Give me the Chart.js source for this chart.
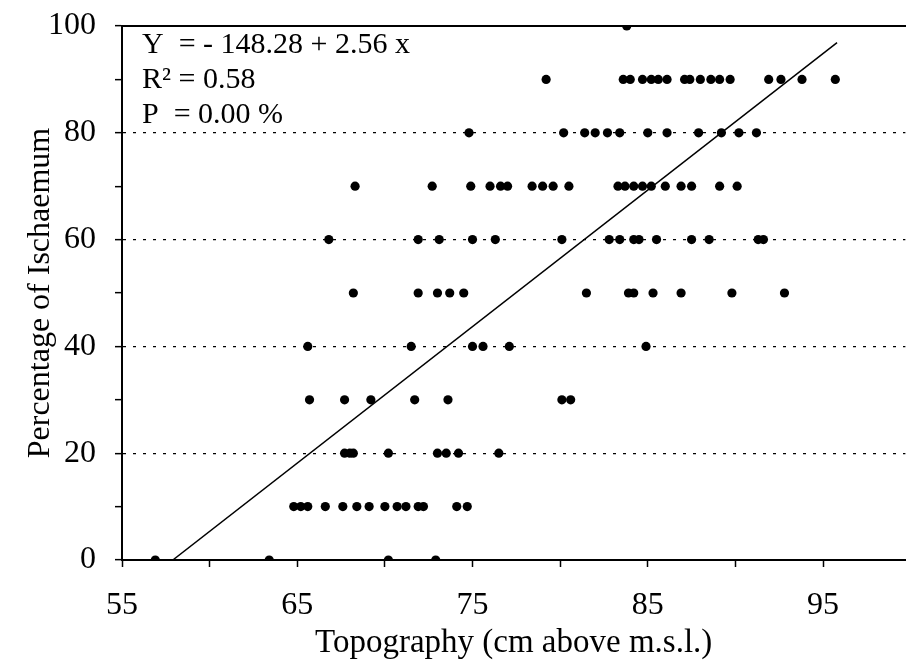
<!DOCTYPE html>
<html>
<head>
<meta charset="utf-8">
<script src="https://cdn.jsdelivr.net/npm/chart.js@4.4.0/dist/chart.umd.min.js"></script>
<style>
  html, body { margin: 0; padding: 0; background: #fff; }
</style>
</head>
<body>
<canvas id="chart" width="910" height="666"></canvas>
<script>
const FONT = '"Liberation Serif", "Times New Roman", serif';

// percentage of Ischaemum levels, and the topography readings (cm) found at each level
const levels = [0, 10, 20, 30, 40, 50, 60, 70, 80, 90, 100];
const topo0 = [56.9, 63.4, 70.2, 72.9];
const topo10 = [64.8, 65.2, 65.6, 66.6, 67.6, 68.4, 69.1, 70.0, 70.7, 71.2, 71.9, 72.2, 74.1, 74.7];
const topo20 = [67.7, 68.0, 68.2, 70.2, 73.0, 73.5, 74.2, 76.5];
const topo30 = [65.7, 67.7, 69.2, 71.7, 73.6, 80.1, 80.6];
const topo40 = [65.6, 71.5, 75.0, 75.6, 77.1, 84.9];
const topo50 = [68.2, 71.9, 73.0, 73.7, 74.5, 81.5, 83.9, 84.2, 85.3, 86.9, 89.8, 92.8];
const topo60 = [66.8, 71.9, 73.1, 75.0, 76.3, 80.1, 82.8, 83.4, 84.2, 84.5, 85.5, 87.5, 88.5, 91.3, 91.6];
const topo70 = [68.3, 72.7, 74.9, 76.0, 76.6, 77.0, 78.4, 79.0, 79.6, 80.5, 83.3, 83.7, 84.2, 84.7, 85.2, 86.0, 86.9, 87.5, 89.1, 90.1];
const topo80 = [74.8, 80.2, 81.4, 82.0, 82.7, 83.4, 85.0, 86.1, 87.9, 89.2, 90.2, 91.2];
const topo90 = [79.2, 83.6, 84.0, 84.7, 85.2, 85.6, 86.1, 87.1, 87.4, 88.0, 88.6, 89.1, 89.7, 91.9, 92.6, 93.8, 95.7];
const topo100 = [83.8];
const topoByLevel = [topo0, topo10, topo20, topo30, topo40, topo50, topo60, topo70, topo80, topo90, topo100];

// fitted line end points
const fitX = [57.9, 95.8];
const fitY = [0, 96.9];

const xTicks = [55, 60, 65, 70, 75, 80, 85, 90, 95];
const xLabels = [55, 65, 75, 85, 95];
const yLabels = [0, 20, 40, 60, 80, 100];
const dottedAt = [20, 40, 60, 80];
const statsText = ["Y  = - 148.28 + 2.56 x", "R\u00b2 = 0.58", "P  = 0.00 %"];

var points = [];
levels.forEach(function (lv, i) {
    topoByLevel[i].forEach(function (t) {
        points.push({ x: t, y: lv });
    });
});

var fitPoints = fitX.map(function (x, i) { return { x: x, y: fitY[i] }; });

// equation, R² and P written in the top left corner of the plot
const statsPlugin = {
    id: 'stats',
    afterDraw(chart) {
        const ctx = chart.ctx;
        const area = chart.chartArea;
        ctx.save();
        ctx.font = '30px ' + FONT;
        ctx.fillStyle = '#000';
        ctx.textBaseline = 'alphabetic';
        statsText.forEach(function (t, i) {
            ctx.fillText(t, area.left + 20, area.top + 27 + i * 35);
        });
        ctx.restore();
    }
};

new Chart(document.getElementById('chart'), {
    type: 'scatter',
    data: {
        datasets: [{
            data: points,
            backgroundColor: '#000',
            borderWidth: 0,
            pointRadius: 4.6,
            pointHoverRadius: 4.6
        }, {
            data: fitPoints,
            showLine: true,
            borderColor: '#000',
            borderWidth: 1.5,
            pointRadius: 0,
            fill: false
        }]
    },
    options: {
        responsive: false,
        animation: false,
        events: [],
        layout: { padding: 0 },
        plugins: { legend: { display: false }, tooltip: { enabled: false } },
        scales: {
            x: {
                type: 'linear',
                position: 'bottom',
                min: 55,
                max: 99.7,
                afterBuildTicks: function (scale) {
                    scale.ticks = xTicks.map(function (v) { return { value: v }; });
                },
                afterFit: function (scale) {
                    scale.height = 106;
                    scale.paddingLeft = 0;
                    scale.paddingRight = 0;
                },
                ticks: {
                    autoSkip: false,
                    maxRotation: 0,
                    color: '#000',
                    font: { family: FONT, size: 32 },
                    padding: 19,
                    callback: function (v) { return xLabels.includes(v) ? String(v) : ''; }
                },
                grid: {
                    drawOnChartArea: false,
                    drawTicks: true,
                    tickLength: 7,
                    tickColor: '#000',
                    tickWidth: 1.5
                },
                border: { color: '#000', width: 2 },
                title: {
                    display: true,
                    text: 'Topography (cm above m.s.l.)',
                    color: '#000',
                    font: { family: FONT, size: 33 },
                    padding: { top: 0, bottom: 3 }
                }
            },
            xTop: {
                axis: 'x',
                type: 'linear',
                position: 'top',
                min: 55,
                max: 99.7,
                afterFit: function (scale) { scale.height = 26; },
                ticks: { display: false },
                grid: { display: false, drawTicks: false },
                border: { color: '#000', width: 2 }
            },
            y: {
                type: 'linear',
                min: 0,
                max: 100,
                afterFit: function (scale) {
                    scale.width = 122;
                    scale.paddingTop = 0;
                    scale.paddingBottom = 0;
                },
                ticks: {
                    stepSize: 10,
                    color: '#000',
                    font: { family: FONT, size: 32 },
                    padding: 19,
                    callback: function (v) { return yLabels.includes(v) ? String(v) : ''; }
                },
                grid: {
                    color: function (c) {
                        return c.tick && dottedAt.includes(c.tick.value) ? '#000' : 'rgba(0,0,0,0)';
                    },
                    lineWidth: 1.3,
                    drawTicks: true,
                    tickLength: 7,
                    tickColor: '#000',
                    tickWidth: 1.5
                },
                border: { color: '#000', width: 2, dash: [3, 7] },
                title: {
                    display: true,
                    text: 'Percentage of Ischaemum',
                    color: '#000',
                    font: { family: FONT, size: 32 },
                    padding: { top: 21, bottom: 0 }
                }
            }
        }
    },
    plugins: [statsPlugin]
});
</script>
</body>
</html>
